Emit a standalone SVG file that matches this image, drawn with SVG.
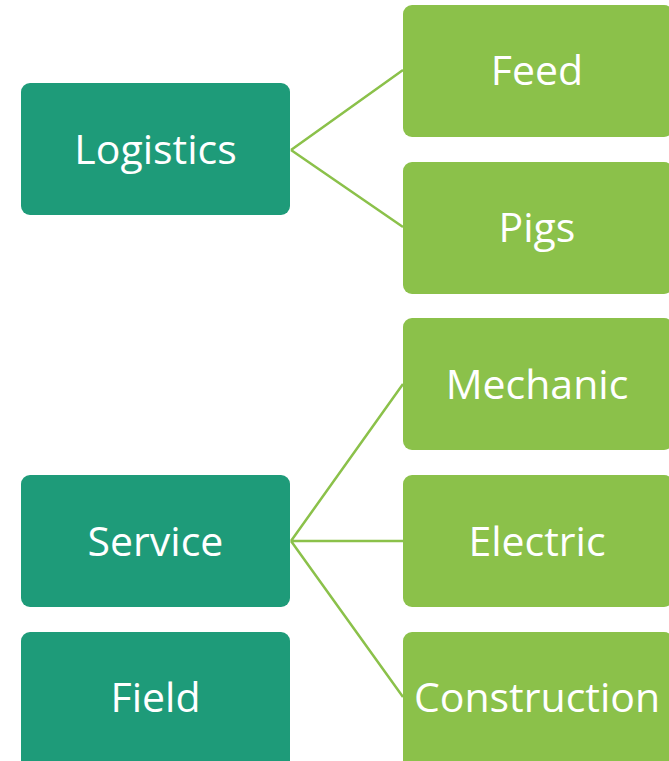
<svg xmlns="http://www.w3.org/2000/svg" width="669" height="761" viewBox="0 0 669 761">
<style>
.p{fill:#1E9B79}
.c{fill:#8BC14A}
.t{fill:#fff;font-family:"Open Sans",sans-serif;font-size:41px;text-anchor:middle;dominant-baseline:central}
.l{stroke:#8BC14A;stroke-width:2.5;fill:none}
</style>
<rect width="669" height="761" fill="#fff"/>
<g id="connectors">
<path class="l" d="M291 150 L403 70 M291 150 L403 227"/>
<path class="l" d="M291 541 L403 384 M291 541 L403 541 M291 541 L403 697"/>
</g>
<g id="logistics"><rect class="p" x="21" y="83" width="269" height="132" rx="9"/><text class="t" x="155.5" y="148">Logistics</text></g>
<g id="service"><rect class="p" x="21" y="475" width="269" height="132" rx="9"/><text class="t" x="155.5" y="540">Service</text></g>
<g id="field"><rect class="p" x="21" y="632" width="269" height="140" rx="9"/><text class="t" x="155.5" y="696">Field</text></g>
<g id="feed"><rect class="c" x="403" y="5" width="270" height="132" rx="9"/><text class="t" x="537" y="69">Feed</text></g>
<g id="pigs"><rect class="c" x="403" y="162" width="270" height="132" rx="9"/><text class="t" x="537" y="226">Pigs</text></g>
<g id="mechanic"><rect class="c" x="403" y="318" width="270" height="132" rx="9"/><text class="t" x="537" y="383">Mechanic</text></g>
<g id="electric"><rect class="c" x="403" y="475" width="270" height="132" rx="9"/><text class="t" x="537" y="540">Electric</text></g>
<g id="construction"><rect class="c" x="403" y="632" width="270" height="140" rx="9"/><text class="t" x="537" y="696">Construction</text></g>
</svg>
